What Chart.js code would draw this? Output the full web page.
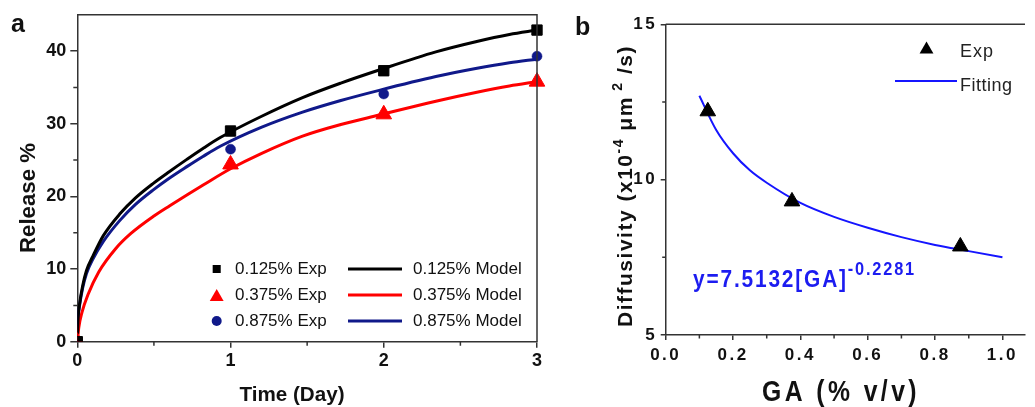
<!DOCTYPE html>
<html>
<head>
<meta charset="utf-8">
<script src="https://cdn.jsdelivr.net/npm/chart.js@4.4.1/dist/chart.umd.min.js"></script>
<style>
  html, body { margin: 0; padding: 0; background: #fff; }
  #wrap { position: relative; width: 1035px; height: 407px; overflow: hidden; }
  #cvA { position: absolute; left: 0; top: 0; }
  #cvB { position: absolute; left: 560px; top: 0; }
</style>
</head>
<body>
<div id="wrap">
  <canvas id="cvA" width="560" height="407"></canvas>
  <canvas id="cvB" width="475" height="407"></canvas>
</div>
<script>
/* Panel a: release % vs time (exp points + model curves)
   Panel b: diffusivity vs GA concentration (exp + power-law fit) */

// ---- panel a data ----
const TIME_EXP = [0, 1, 2, 3];
const EXP_0125 = [0, 29.0, 37.3, 42.9];
const EXP_0375 = [0, 24.4, 31.3, 35.8];
const EXP_0875 = [0, 26.5, 34.1, 39.3];

const MODEL_T = [0, 0.005, 0.015, 0.035, 0.06, 0.1, 0.17, 0.278, 0.38, 0.496, 0.6, 0.715, 0.82, 0.933, 1.2, 1.47, 1.72, 1.97, 2.34, 2.6, 2.82, 3];
const MODEL_0125 = [0, 3.2, 5.2, 7.7, 9.8, 11.7, 14.6, 17.6, 19.8, 21.8, 23.4, 25.1, 26.6, 28.1, 31.0, 33.6, 35.6, 37.4, 39.9, 41.3, 42.3, 42.9];
const MODEL_0875 = [0, 3.0, 5.0, 7.4, 9.4, 11.3, 13.8, 16.7, 18.9, 20.9, 22.5, 24.1, 25.5, 26.9, 29.5, 31.6, 33.2, 34.6, 36.5, 37.6, 38.4, 38.9];
const MODEL_T_0375 = [0, 0.01, 0.03, 0.07, 0.14, 0.25, 0.35, 0.5, 0.606, 0.715, 0.824, 1.0, 1.2, 1.47, 1.72, 1.97, 2.34, 2.6, 2.82, 3];
const MODEL_0375 = [0, 2.0, 4.0, 6.5, 9.6, 12.8, 14.9, 17.3, 18.75, 20.2, 21.6, 23.8, 25.9, 28.3, 29.9, 31.2, 33.1, 34.3, 35.2, 35.8];

const A_X_TICKS = [0, 1, 2, 3];
const A_X_MINOR = [0.5, 1.5, 2.5];
const A_Y_TICKS = [0, 10, 20, 30, 40];
const A_Y_MINOR = [5, 15, 25, 35];

// ---- panel b data ----
const GA_EXP = [0.125, 0.375, 0.875];
const DIFF_EXP = [12.2, 9.3, 7.85];
const GA_FIT = [0.1, 0.15, 0.2, 0.25, 0.3, 0.4, 0.5, 0.6, 0.7, 0.8, 0.9, 1.0];
const DIFF_FIT = [12.7, 11.6, 10.85, 10.3, 9.9, 9.25, 8.8, 8.45, 8.15, 7.9, 7.7, 7.5];

const B_X_TICKS = [0, 0.2, 0.4, 0.6, 0.8, 1.0];
const B_X_LABELS = ["0.0", "0.2", "0.4", "0.6", "0.8", "1.0"];
const B_X_MINOR = [0.1, 0.3, 0.5, 0.7, 0.9];
const B_Y_TICKS = [5, 10, 15];
const B_Y_MINOR = [7.5, 12.5];

const FONT = "'Liberation Sans', Arial, Helvetica, sans-serif";
const AXIS = "#333";
const NAVY = "#10198a";
const FITBLUE = "#1515ff";

const pts = (xs, ys) => xs.map((x, i) => ({ x, y: ys[i] }));

function txt(ctx, s, x, y, font, color, o = {}) {
  ctx.save();
  ctx.font = font; ctx.fillStyle = color;
  ctx.letterSpacing = o.ls || "0px";
  ctx.textAlign = "left"; ctx.textBaseline = o.base || "alphabetic";
  ctx.translate(x, y);
  if (o.rot) ctx.rotate(o.rot);
  const w = ctx.measureText(s).width;
  ctx.scale(o.w ? o.w / w : 1, 1);
  ctx.fillText(s, o.align === "center" ? -w / 2 : 0, 0);
  ctx.restore();
}

// segments drawn one after another, squeezed to a total width
function rich(ctx, segs, x, y, color, o = {}) {
  ctx.save();
  ctx.fillStyle = color; ctx.textBaseline = "alphabetic"; ctx.textAlign = "left";
  ctx.letterSpacing = o.ls || "0px";
  let W = 0;
  segs.forEach(s => { ctx.font = s.font; s.w = ctx.measureText(s.t).width; W += s.w; });
  ctx.translate(x, y);
  if (o.rot) ctx.rotate(o.rot);
  ctx.scale(o.w ? o.w / W : 1, 1);
  let cx = 0;
  segs.forEach(s => { ctx.font = s.font; ctx.fillText(s.t, cx, s.dy || 0); cx += s.w; });
  ctx.restore();
}

function minorTicks(chart, xs, ys, len) {
  const ctx = chart.ctx, a = chart.chartArea, sx = chart.scales.x, sy = chart.scales.y;
  ctx.save();
  ctx.strokeStyle = AXIS; ctx.lineWidth = 1.5;
  ctx.beginPath();
  xs.forEach(v => { const p = sx.getPixelForValue(v); ctx.moveTo(p, a.bottom); ctx.lineTo(p, a.bottom + len); });
  ys.forEach(v => { const p = sy.getPixelForValue(v); ctx.moveTo(a.left, p); ctx.lineTo(a.left - len, p); });
  ctx.stroke();
  ctx.restore();
}

function point(ctx, style, r, x, y, color) {
  ctx.save();
  ctx.fillStyle = color; ctx.strokeStyle = color;
  Chart.helpers.drawPoint(ctx, { pointStyle: style, radius: r, rotation: 0, borderWidth: 0 }, x, y);
  ctx.restore();
}

const axisOpts = (tickLen, size, pad) => ({
  grid: { drawOnChartArea: false, tickLength: tickLen, color: AXIS, lineWidth: 1.5 },
  border: { color: AXIS, width: 1.5 },
  ticks: { font: { family: FONT, size: size, weight: "bold" }, color: "#111", padding: pad }
});

// ---------------- panel a ----------------
const panelA = {
  id: "panelA",
  afterDraw(chart) {
    const ctx = chart.ctx, a = chart.chartArea;
    ctx.save();
    ctx.strokeStyle = AXIS; ctx.lineWidth = 1.5;
    ctx.beginPath();
    ctx.moveTo(a.left, a.top); ctx.lineTo(a.right, a.top); ctx.lineTo(a.right, a.bottom);
    ctx.stroke();
    ctx.restore();
    minorTicks(chart, A_X_MINOR, A_Y_MINOR, 4);

    // legend, two columns
    const rows = [
      { exp: "0.125% Exp", mod: "0.125% Model", c: "#000", st: "rect", r: 5.7 },
      { exp: "0.375% Exp", mod: "0.375% Model", c: "#ff0000", st: "triangle", r: 8 },
      { exp: "0.875% Exp", mod: "0.875% Model", c: NAVY, st: "circle", r: 5 }
    ];
    const ry = [269, 295, 321];
    const f = "17px " + FONT;
    rows.forEach((row, i) => {
      const y = ry[i];
      point(ctx, row.st, row.r, 216.7, row.st === "triangle" ? y + 2 : y, row.c);
      txt(ctx, row.exp, 235, y, f, "#111", { base: "middle" });
      ctx.save();
      ctx.strokeStyle = row.c; ctx.lineWidth = 3;
      ctx.beginPath(); ctx.moveTo(348, y); ctx.lineTo(402, y); ctx.stroke();
      ctx.restore();
      txt(ctx, row.mod, 413, y, f, "#111", { base: "middle" });
    });

    txt(ctx, "Release %", 35, 198, "bold 22px " + FONT, "#111", { rot: -Math.PI / 2, align: "center", w: 110 });
    txt(ctx, "Time (Day)", 292, 401, "bold 21px " + FONT, "#111", { align: "center", w: 105 });
    txt(ctx, "a", 11, 32, "bold 25px " + FONT, "#111");
  }
};

const expClip = { left: 0, bottom: 0, right: false, top: false };
const modelLine = (data, color) => ({ data, showLine: true, pointRadius: 0, borderColor: color,
  borderWidth: 3, cubicInterpolationMode: "monotone", order: 1 });

new Chart(document.getElementById("cvA"), {
  type: "scatter",
  data: {
    datasets: [
      { label: "0.125% Exp", data: pts(TIME_EXP, EXP_0125), pointStyle: "rect", pointRadius: 7.3,
        backgroundColor: "#000", borderColor: "#000", borderWidth: 1, order: 0, clip: expClip },
      { label: "0.375% Exp", data: pts(TIME_EXP, EXP_0375), pointStyle: "triangle", pointRadius: 9,
        backgroundColor: "#ff0000", borderColor: "#ff0000", borderWidth: 1, order: 0, clip: expClip },
      { label: "0.875% Exp", data: pts(TIME_EXP, EXP_0875), pointStyle: "circle", pointRadius: 5,
        backgroundColor: NAVY, borderColor: NAVY, borderWidth: 0.5, order: 0, clip: expClip },
      Object.assign(modelLine(pts(MODEL_T, MODEL_0125), "#000"), { label: "0.125% Model" }),
      Object.assign(modelLine(pts(MODEL_T_0375, MODEL_0375), "#ff0000"), { label: "0.375% Model" }),
      Object.assign(modelLine(pts(MODEL_T, MODEL_0875), NAVY), { label: "0.875% Model" })
    ]
  },
  options: {
    responsive: false, animation: false, events: [],
    layout: { padding: { left: 0, right: 23, top: 14, bottom: 0 } },
    plugins: { legend: { display: false }, tooltip: { enabled: false } },
    scales: {
      x: Object.assign(axisOpts(6, 18, 3), {
        type: "linear", min: 0, max: 3,
        afterFit(s) { s.height = 65.3; },
        afterBuildTicks(s) { s.ticks = A_X_TICKS.map(v => ({ value: v })); }
      }),
      y: Object.assign(axisOpts(7, 18, 4), {
        type: "linear", min: 0, max: 45,
        afterFit(s) { s.width = 77.3; },
        afterBuildTicks(s) { s.ticks = A_Y_TICKS.map(v => ({ value: v })); }
      })
    }
  },
  plugins: [panelA]
});

// ---------------- panel b ----------------
const panelB = {
  id: "panelB",
  beforeDraw(chart) { chart.ctx.letterSpacing = "2.5px"; },
  afterDraw(chart) {
    const ctx = chart.ctx, a = chart.chartArea;
    ctx.letterSpacing = "0px";
    ctx.save();
    ctx.strokeStyle = AXIS; ctx.lineWidth = 1.5;
    ctx.beginPath(); ctx.moveTo(a.left, a.top); ctx.lineTo(a.right, a.top); ctx.stroke();
    ctx.restore();
    minorTicks(chart, B_X_MINOR, B_Y_MINOR, 3.5);

    // legend
    point(ctx, "triangle", 8, 366.5, 49.5, "#000");
    txt(ctx, "Exp", 400, 52, "18px " + FONT, "#222", { base: "middle", ls: "1px" });
    ctx.save();
    ctx.strokeStyle = FITBLUE; ctx.lineWidth = 2;
    ctx.beginPath(); ctx.moveTo(335, 81); ctx.lineTo(397, 81); ctx.stroke();
    ctx.restore();
    txt(ctx, "Fitting", 400, 86, "18px " + FONT, "#222", { base: "middle", ls: "0.5px" });

    // fitted equation
    rich(ctx, [
      { t: "y=7.5132[GA]", font: "bold 23px " + FONT },
      { t: "-0.2281", font: "bold 18px " + FONT, dy: -11.7 }
    ], 133, 286.7, "#1c1cf0", { ls: "2px", w: 223 });

    // axis titles
    rich(ctx, [
      { t: "Diffusivity (x10", font: "bold 21px " + FONT },
      { t: "-4", font: "bold 14px " + FONT, dy: -9 },
      { t: " \u03bcm", font: "bold 21px " + FONT },
      { t: " 2", font: "bold 14px " + FONT, dy: -10 },
      { t: " /s)", font: "bold 21px " + FONT }
    ], 72, 327, "#111", { ls: "1.5px", rot: -Math.PI / 2, w: 282 });
    txt(ctx, "GA (% v/v)", 281, 401, "bold 29px " + FONT, "#111", { align: "center", ls: "4px", w: 158 });
    txt(ctx, "b", 15, 35, "bold 25px " + FONT, "#111");
  }
};

new Chart(document.getElementById("cvB"), {
  type: "scatter",
  data: {
    datasets: [
      { label: "Exp", data: pts(GA_EXP, DIFF_EXP), pointStyle: "triangle", pointRadius: 9,
        backgroundColor: "#000", borderColor: "#000", borderWidth: 1, order: 0, clip: false },
      { label: "Fitting", data: pts(GA_FIT, DIFF_FIT), showLine: true, pointRadius: 0,
        borderColor: FITBLUE, borderWidth: 2, cubicInterpolationMode: "monotone", order: 1 }
    ]
  },
  options: {
    responsive: false, animation: false, events: [],
    layout: { padding: { left: 0, right: 0, top: 24.3, bottom: 0 } },
    plugins: { legend: { display: false }, tooltip: { enabled: false } },
    scales: {
      x: Object.assign(axisOpts(5, 17, 5), {
        type: "linear", min: 0, max: 1.067,
        afterFit(s) { s.height = 72; },
        afterBuildTicks(s) { s.ticks = B_X_TICKS.map(v => ({ value: v })); }
      }),
      y: Object.assign(axisOpts(5, 17, 3.5), {
        type: "linear", min: 5, max: 15,
        afterFit(s) { s.width = 105.7; },
        afterBuildTicks(s) { s.ticks = B_Y_TICKS.map(v => ({ value: v })); }
      })
    }
  },
  plugins: [panelB]
});
const cB = Chart.getChart("cvB");
cB.options.scales.x.ticks.callback = (v, i) => B_X_LABELS[i];
cB.update();
</script>
</body>
</html>
